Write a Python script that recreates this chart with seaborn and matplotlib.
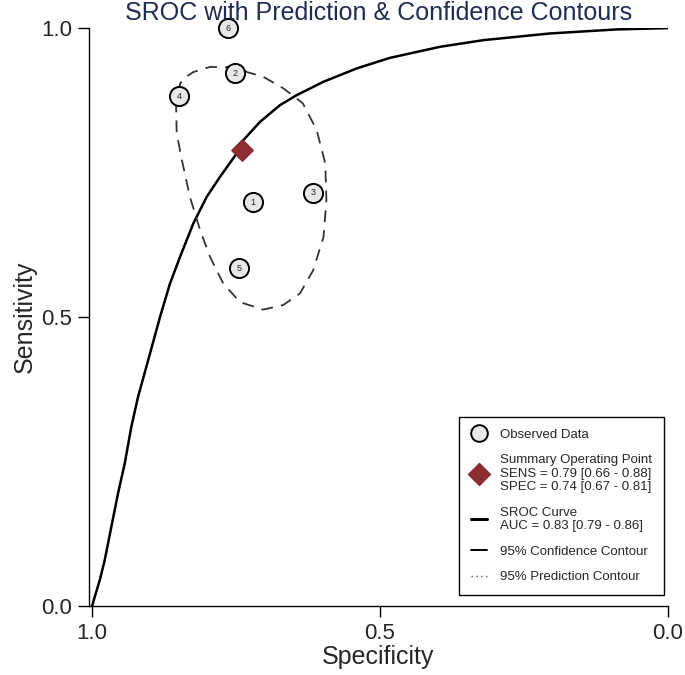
import numpy as np
import pandas as pd
import matplotlib
matplotlib.use("Agg")
import matplotlib.pyplot as plt
from matplotlib.lines import Line2D
import seaborn as sns

# --- Datos ---
STUDY_ID = ['1', '2', '3', '4', '5', '6']
STUDY_SPEC = [0.720, 0.752, 0.616, 0.849, 0.745, 0.764]
STUDY_SENS = [0.699, 0.922, 0.715, 0.882, 0.585, 1.000]

SUMMARY_SPEC = 0.74
SUMMARY_SENS = 0.79

# curva SROC (puntos leidos a lo largo de la linea)
SROC_SPEC = [1.000, 0.9953, 0.9866, 0.9780, 0.9665, 0.9549, 0.9432, 0.9318,
             0.9201, 0.8993, 0.8819, 0.8646, 0.8472, 0.8241, 0.8009, 0.7778,
             0.7488, 0.7373, 0.7083, 0.6736, 0.6446, 0.5984, 0.5405, 0.4826,
             0.3958, 0.3207, 0.2049, 0.0891, 0.000]
SROC_SENS = [0.000, 0.0161, 0.0450, 0.0796, 0.1372, 0.1950, 0.2469, 0.3102,
             0.3621, 0.4372, 0.5005, 0.5583, 0.6043, 0.6621, 0.7081, 0.7427,
             0.7832, 0.8062, 0.8379, 0.8668, 0.8841, 0.9071, 0.9303, 0.9486,
             0.9677, 0.9792, 0.9908, 0.9978, 1.000]

# contorno de confianza 95%
CONF_SPEC = [0.749, 0.769, 0.795, 0.824, 0.841, 0.847, 0.854, 0.853, 0.844,
             0.830, 0.8125, 0.795, 0.772, 0.743, 0.703, 0.668, 0.639, 0.616,
             0.598, 0.593, 0.595, 0.610, 0.634, 0.668, 0.703, 0.731, 0.749]
CONF_SENS = [0.936, 0.932, 0.933, 0.924, 0.913, 0.904, 0.864, 0.818, 0.772,
             0.708, 0.651, 0.604, 0.558, 0.526, 0.513, 0.521, 0.541, 0.581,
             0.639, 0.702, 0.766, 0.824, 0.870, 0.896, 0.916, 0.924, 0.936]

TICKS = [1.0, 0.5, 0.0]
TICK_LABELS = ['1.0', '0.5', '0.0']

LEGEND_LABELS = [
    'Observed Data',
    'Summary Operating Point\nSENS = 0.79 [0.66 - 0.88]\nSPEC = 0.74 [0.67 - 0.81]',
    'SROC Curve\nAUC = 0.83 [0.79 - 0.86]',
    '95% Confidence Contour',
    '95% Prediction Contour',
]

sns.set_style('ticks')
plt.rcParams['font.family'] = ['Liberation Sans', 'DejaVu Sans']

RED = '#8b2d33'
NAVY = '#1f2d52'

studies = pd.DataFrame({'spec': STUDY_SPEC, 'sens': STUDY_SENS, 'id': STUDY_ID})
sroc = pd.DataFrame({'spec': SROC_SPEC, 'sens': SROC_SENS})
conf = pd.DataFrame({'spec': CONF_SPEC, 'sens': CONF_SENS})

fig = plt.figure(figsize=(6.85, 6.75), dpi=100)
ax = fig.add_axes([0.130, 0.102, 0.845, 0.8563])

# curva SROC
sns.lineplot(data=sroc, x='spec', y='sens', sort=False, estimator=None,
             color='black', linewidth=1.8, ax=ax, zorder=2,
             solid_joinstyle='round', solid_capstyle='round')

# contorno de confianza (discontinuo)
sns.lineplot(data=conf, x='spec', y='sens', sort=False, estimator=None,
             color='#333333', linewidth=1.3, ax=ax, zorder=2)
ax.lines[-1].set_linestyle((0, (6.5, 4.5)))

# estudios observados
sns.scatterplot(data=studies, x='spec', y='sens', s=190, color='#e8e8e8',
                edgecolor='black', linewidth=1.4, ax=ax, zorder=3, clip_on=False)
for _, r in studies.iterrows():
    ax.text(r['spec'], r['sens'], r['id'], ha='center', va='center',
            fontsize=6.5, zorder=4, clip_on=False)

# punto resumen
ax.scatter([SUMMARY_SPEC], [SUMMARY_SENS], marker='D', s=120, color=RED,
           edgecolor=RED, zorder=5)

ax.set_xlim(1.0052, 0.0)
ax.set_ylim(0.0, 1.0)
ax.set_xticks(TICKS)
ax.set_xticklabels(TICK_LABELS)
ax.set_yticks(TICKS)
ax.set_yticklabels(TICK_LABELS)
ax.tick_params(labelsize=16, length=8, width=1, color='black', pad=4)
sns.despine(ax=ax)
for sp in ['left', 'bottom']:
    ax.spines[sp].set_linewidth(1.0)
    ax.spines[sp].set_color('black')

ax.set_xlabel('Specificity', fontsize=18, labelpad=1)
ax.set_ylabel('Sensitivity', fontsize=18, labelpad=3)
ax.set_title('SROC with Prediction & Confidence Contours', fontsize=18,
             color=NAVY, pad=6)

handles = [
    Line2D([], [], linestyle='none', marker='o', markersize=12,
           markerfacecolor='#e8e8e8', markeredgecolor='black', markeredgewidth=1.4),
    Line2D([], [], linestyle='none', marker='D', markersize=11,
           markerfacecolor=RED, markeredgecolor=RED),
    Line2D([], [], color='black', linewidth=2.2),
    Line2D([], [], color='black', linewidth=1.4),
    Line2D([], [], color='#555555', linewidth=1.0, linestyle=(0, (1, 2.5))),
]
leg = ax.legend(handles, LEGEND_LABELS, loc='lower right',
                bbox_to_anchor=(0.993, 0.019), borderaxespad=0,
                fontsize=9.5, handlelength=1.2, handletextpad=1.0,
                labelspacing=1.0, borderpad=0.9, fancybox=False,
                framealpha=1, edgecolor='black')
leg.get_frame().set_linewidth(1.0)

fig.savefig('out.png', dpi=100)
